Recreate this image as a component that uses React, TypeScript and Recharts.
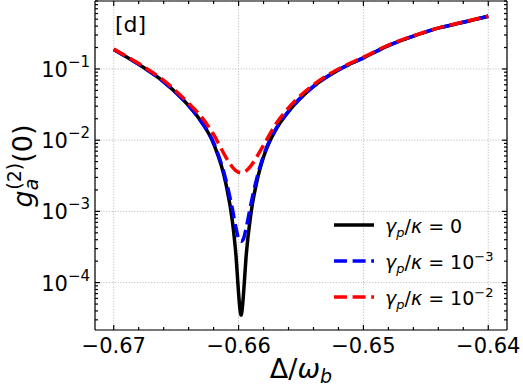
import React from "react";
import { CartesianGrid, Line, LineChart, XAxis, YAxis } from "recharts";

// Δ/ω_b sample points
const detuning = [
  -0.67, -0.668, -0.666, -0.664, -0.663, -0.662, -0.661, -0.6605, -0.6602, -0.66,
  -0.6599, -0.6598, -0.6597, -0.6596, -0.6594, -0.659, -0.6585, -0.658, -0.657, -0.656,
  -0.654, -0.652, -0.65, -0.648, -0.646, -0.644, -0.642, -0.64,
];
// g_a^(2)(0) for γp/κ = 0
const g2NoDephasing = [
  0.188, 0.116, 0.066, 0.0305, 0.0183, 0.0089, 0.00237, 7.4e-4, 2.3e-4, 7.1e-5,
  4.4e-5, 3.5e-5, 4.4e-5, 7.1e-5, 2.3e-4, 9.6e-4, 2.8e-3, 5.8e-3, 0.0142, 0.0252,
  0.057, 0.097, 0.143, 0.213, 0.289, 0.374, 0.453, 0.55,
];
// γp/κ = 1e-3
const g2Dephasing1e3 = [
  0.188, 0.116, 0.066, 0.0305, 0.0183, 0.0092, 0.0027, 1.09e-3, 5.75e-4, 4.16e-4,
  3.89e-4, 3.8e-4, 3.89e-4, 4.16e-4, 5.75e-4, 1.3e-3, 3.1e-3, 6.1e-3, 0.0145, 0.0255,
  0.057, 0.097, 0.143, 0.213, 0.289, 0.374, 0.453, 0.55,
];
// γp/κ = 1e-2
const g2Dephasing1e2 = [
  0.19, 0.119, 0.069, 0.033, 0.0215, 0.012, 0.0057, 0.0042, 0.0037, 0.00354,
  0.00351, 0.0035, 0.00351, 0.00354, 0.0037, 0.0044, 0.006, 0.0085, 0.017, 0.0285,
  0.06, 0.1, 0.146, 0.216, 0.292, 0.377, 0.456, 0.553,
];

const xMajorTicks = [-0.67, -0.66, -0.65, -0.64];
const xMinorTicks = [
  -0.67, -0.668, -0.666, -0.664, -0.662, -0.66, -0.658, -0.656, -0.654, -0.652,
  -0.65, -0.648, -0.646, -0.644, -0.642, -0.64,
];
const yMajorTicks = [1e-4, 1e-3, 1e-2, 1e-1];
const yMantissas = [1, 2, 3, 4, 5, 6, 7, 8, 9];
const yDecades = [1e-5, 1e-4, 1e-3, 1e-2, 1e-1];

const X_DOMAIN: [number, number] = [-0.6715, -0.6385];
const Y_DOMAIN: [number, number] = [2.16e-5, 0.9];
const yAllTicks = yDecades
  .flatMap((d) => yMantissas.map((m) => m * d))
  .filter((v) => v >= Y_DOMAIN[0] && v <= Y_DOMAIN[1]);

const series = [
  { key: "g0", values: g2NoDephasing, color: "#000000", dash: undefined as string | undefined, exp: null as number | null },
  { key: "g3", values: g2Dephasing1e3, color: "#0000ff", dash: "13 5.6", exp: -3 },
  { key: "g2", values: g2Dephasing1e2, color: "#ff0000", dash: "13 5.6", exp: -2 },
];

const data = detuning.map((d, i) => {
  const row: Record<string, number> = { delta: d };
  for (const s of series) row[s.key] = s.values[i];
  return row;
});

const FONT = "'DejaVu Sans', sans-serif";
const isMajorX = (v: number) => xMajorTicks.some((m) => Math.abs(m - v) < 1e-9);
const isMajorY = (v: number) => Math.abs(Math.log10(v) - Math.round(Math.log10(v))) < 1e-6;

function BottomTick(props: any) {
  const { x, y, payload } = props;
  const major = isMajorX(payload.value);
  return (
    <g>
      <line x1={x} x2={x} y1={y} y2={y - (major ? 5 : 3)} stroke="#000" strokeWidth={1.2} />
      {major && (
        <text x={x} y={y + 23} textAnchor="middle" fontSize={21} fontFamily={FONT} fill="#000">
          {"\u2212" + Math.abs(payload.value).toFixed(2)}
        </text>
      )}
    </g>
  );
}

function TopTick(props: any) {
  const { x, y, payload } = props;
  const major = isMajorX(payload.value);
  return <line x1={x} x2={x} y1={y} y2={y + (major ? 5 : 3)} stroke="#000" strokeWidth={1.2} />;
}

function LeftTick(props: any) {
  const { x, y, payload } = props;
  const major = isMajorY(payload.value);
  const exp = Math.round(Math.log10(payload.value));
  return (
    <g>
      <line x1={x} x2={x + (major ? 5 : 3)} y1={y} y2={y} stroke="#000" strokeWidth={1.2} />
      {major && (
        <text x={x - 5} y={y + 8} textAnchor="end" fontSize={21} fontFamily={FONT} fill="#000">
          10
          <tspan dy={-10} fontSize={15}>{"\u2212" + Math.abs(exp)}</tspan>
        </text>
      )}
    </g>
  );
}

function RightTick(props: any) {
  const { x, y, payload } = props;
  const major = isMajorY(payload.value);
  return <line x1={x} x2={x - (major ? 5 : 3)} y1={y} y2={y} stroke="#000" strokeWidth={1.2} />;
}

const axisLine = { stroke: "#000", strokeWidth: 1.2 };

export default function App() {
  return (
    <div style={{ position: "absolute", left: 0, top: 0, width: 523, height: 392, background: "#fff" }}>
      <LineChart width={523} height={392} data={data} margin={{ top: 0, right: 15, left: 0, bottom: 0 }}>
        <XAxis
          xAxisId="bottom" dataKey="delta" type="number" domain={X_DOMAIN} allowDataOverflow
          ticks={xMinorTicks} interval={0} height={62} tickSize={0} tickMargin={0} tickLine={false}
          axisLine={axisLine} tick={BottomTick}
        />
        <XAxis
          xAxisId="top" orientation="top" dataKey="delta" type="number" domain={X_DOMAIN} allowDataOverflow
          ticks={xMinorTicks} interval={0} height={1} tickSize={0} tickMargin={0} tickLine={false}
          axisLine={axisLine} tick={TopTick}
        />
        <YAxis
          yAxisId="left" type="number" scale="log" domain={Y_DOMAIN} allowDataOverflow
          ticks={yAllTicks} interval={0} width={95} tickSize={0} tickMargin={0} tickLine={false}
          axisLine={axisLine} tick={LeftTick}
        />
        <YAxis
          yAxisId="right" orientation="right" type="number" scale="log" domain={Y_DOMAIN} allowDataOverflow
          ticks={yAllTicks} interval={0} width={1} tickSize={0} tickMargin={0} tickLine={false}
          axisLine={axisLine} tick={RightTick}
        />
        <XAxis xAxisId="grid" dataKey="delta" type="number" domain={X_DOMAIN} allowDataOverflow ticks={xMajorTicks} height={0} hide />
        <YAxis yAxisId="grid" type="number" scale="log" domain={Y_DOMAIN} allowDataOverflow ticks={yMajorTicks} width={0} hide />
        <CartesianGrid xAxisId="grid" yAxisId="grid" stroke="#b0b0b0" strokeWidth={0.8} strokeDasharray="1.2 1.6" />
        {series.map((s) => (
          <Line
            key={s.key} xAxisId="bottom" yAxisId="left" dataKey={s.key} type="monotone"
            stroke={s.color} strokeWidth={3.5} strokeDasharray={s.dash} dot={false}
            activeDot={false} isAnimationActive={false}
          />
        ))}
      </LineChart>
      <svg width={523} height={392} style={{ position: "absolute", left: 0, top: 0, pointerEvents: "none" }} fontFamily={FONT}>
        <text x={115} y={32} fontSize={22} fill="#000">[d]</text>
        {/* legend */}
        {series.map((s, i) => {
          const ly = 225 + i * 36;
          return (
            <g key={s.key}>
              <line x1={334} x2={374} y1={ly} y2={ly} stroke={s.color} strokeWidth={3.5} strokeDasharray={s.dash} />
              <text x={385} y={ly + 8} fontSize={19} fill="#000">
                <tspan fontStyle="italic">γ</tspan>
                <tspan fontStyle="italic" fontSize={13} dy={4}>p</tspan>
                <tspan dy={-4}>/</tspan>
                <tspan fontStyle="italic">κ</tspan>
                <tspan>{s.exp === null ? " = 0" : " = 10"}</tspan>
                {s.exp !== null && <tspan fontSize={13} dy={-8}>{"\u2212" + Math.abs(s.exp)}</tspan>}
              </text>
            </g>
          );
        })}
        {/* axis labels */}
        <text x={301} y={378} textAnchor="middle" fontSize={27} fill="#000">
          Δ/<tspan fontStyle="italic">ω</tspan>
          <tspan fontStyle="italic" fontSize={19} dy={5}>b</tspan>
        </text>
        <text transform="rotate(-90)" x={-166} y={32} textAnchor="middle" fontSize={27} fill="#000">
          <tspan fontStyle="italic">g</tspan>
          <tspan fontStyle="italic" fontSize={19} dy={6}>a</tspan>
          <tspan fontSize={19} dx={-11} dy={-17}>(2)</tspan>
          <tspan dy={11}>(0)</tspan>
        </text>
      </svg>
    </div>
  );
}
